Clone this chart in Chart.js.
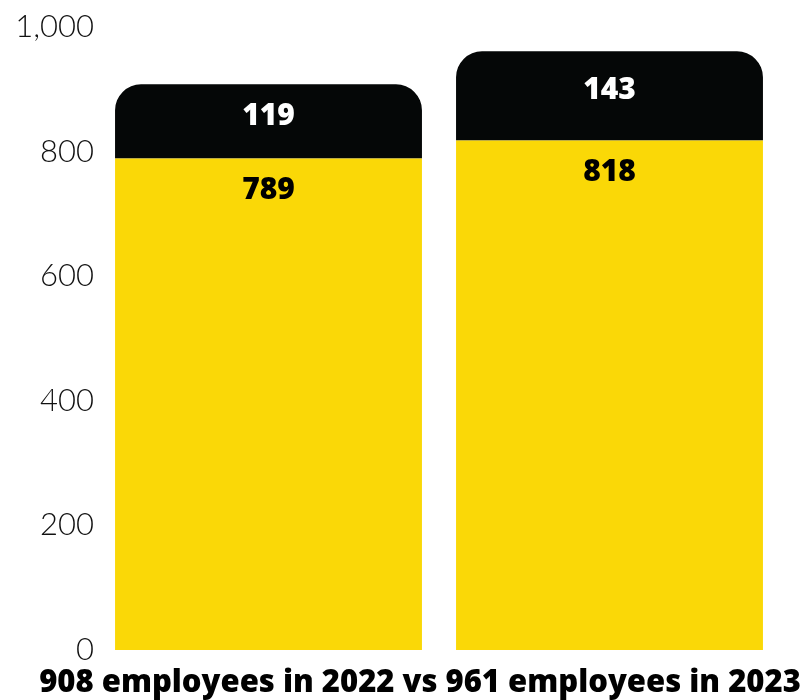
<!DOCTYPE html>
<html>
<head>
<meta charset="utf-8">
<script src="https://cdn.jsdelivr.net/npm/chart.js@4"></script>
<style>
  html, body { margin: 0; padding: 0; background: #ffffff; }
  #wrap { width: 805px; height: 700px; }
</style>
</head>
<body>
<div id="wrap"><canvas id="headcount"></canvas></div>
<script>
// headcount per year, split in two groups
const years = ['2022', '2023'];
const baseCounts = [789, 818];
const topCounts = [119, 143];
const yTicks = [0, 200, 400, 600, 800, 1000];

const totals = baseCounts.map((v, i) => v + topCounts[i]);
const titleText = `${totals[0]} employees in ${years[0]} vs ${totals[1]} employees in ${years[1]}`;

const YELLOW = '#FAD807';
const BLACK = '#050707';
const BOLD_FONT = '"Open Sans", Lato, "DejaVu Sans", sans-serif';

// writes the value of each segment inside its bar
const segmentLabels = {
  id: 'segmentLabels',
  afterDatasetsDraw(chart) {
    const ctx = chart.ctx;
    ctx.save();
    ctx.font = '800 30px ' + BOLD_FONT;
    ctx.textAlign = 'center';
    ctx.textBaseline = 'middle';
    chart.data.datasets.forEach((ds, di) => {
      const meta = chart.getDatasetMeta(di);
      meta.data.forEach((bar, i) => {
        const p = bar.getProps(['x', 'y', 'base'], true);
        if (di === 1) {
          ctx.fillStyle = '#ffffff';
          ctx.fillText(ds.data[i], p.x, (p.y + p.base) / 2 - 5);
        } else {
          ctx.fillStyle = '#000000';
          ctx.fillText(ds.data[i], p.x, p.y + 32);
        }
      });
    });
    ctx.restore();
  }
};

// caption under the bars, a bit right of the canvas centre
const bottomCaption = {
  id: 'bottomCaption',
  afterDraw(chart) {
    const ctx = chart.ctx;
    ctx.save();
    ctx.font = '800 31px ' + BOLD_FONT;
    ctx.fillStyle = '#000000';
    ctx.textAlign = 'center';
    ctx.textBaseline = 'middle';
    ctx.fillText(titleText, 420, chart.chartArea.bottom + 33);
    ctx.restore();
  }
};

new Chart(document.getElementById('headcount'), {
  type: 'bar',
  data: {
    labels: years,
    datasets: [
      {
        data: baseCounts,
        backgroundColor: YELLOW,
        borderWidth: 0
      },
      {
        data: topCounts,
        backgroundColor: BLACK,
        borderWidth: 0,
        borderSkipped: false,
        borderRadius: { topLeft: 26, topRight: 26, bottomLeft: 0, bottomRight: 0 }
      }
    ]
  },
  options: {
    responsive: true,
    maintainAspectRatio: false,
    animation: false,
    layout: { padding: { top: 27, right: 25, left: 0, bottom: 50 } },
    datasets: { bar: { barPercentage: 0.9, categoryPercentage: 1.0 } },
    plugins: {
      legend: { display: false },
      tooltip: { enabled: false },
      title: { display: false }
    },
    scales: {
      x: {
        stacked: true,
        display: false
      },
      y: {
        stacked: true,
        min: 0,
        max: 1000,
        afterBuildTicks(scale) {
          scale.ticks = yTicks.map(v => ({ value: v }));
        },
        afterFit(scale) {
          scale.width = 98;
        },
        grid: { display: false, drawTicks: false },
        border: { display: false },
        ticks: {
          padding: 4,
          color: '#111111',
          font: { family: 'Lato, "DejaVu Sans", sans-serif', size: 31, weight: '300' },
          callback: v => v.toLocaleString('en-US')
        }
      }
    }
  },
  plugins: [segmentLabels, bottomCaption]
});
</script>
</body>
</html>
